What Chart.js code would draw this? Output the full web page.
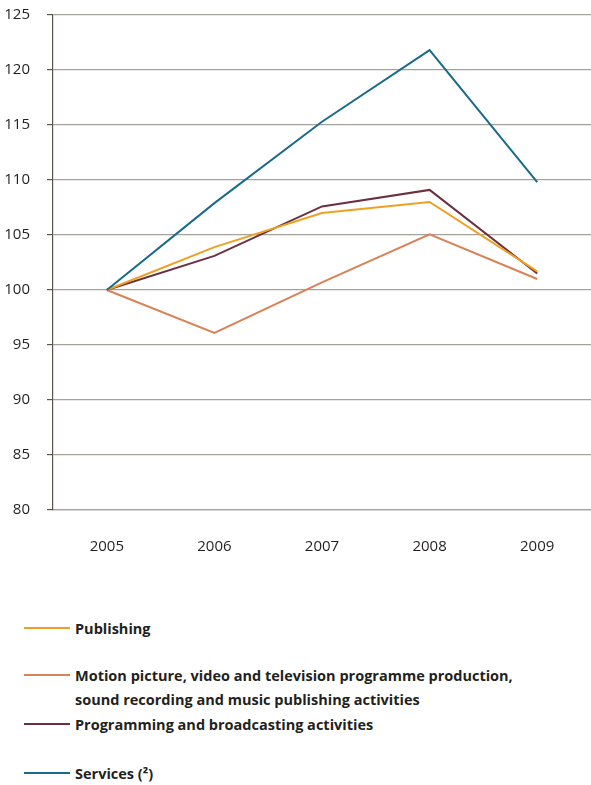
<!DOCTYPE html>
<html>
<head>
<meta charset="utf-8">
<script src="https://cdn.jsdelivr.net/npm/chart.js@4/dist/chart.umd.min.js"></script>
<style>
  html,body{margin:0;padding:0;background:#fff;}
  #wrap{position:relative;width:591px;height:576px;margin-top:-11px;}
  .legend{position:relative;width:591px;height:220px;font-family:"Open Sans",sans-serif;font-weight:bold;font-size:14.5px;color:#231f20;}
  .item{position:absolute;left:24px;}
  .item i{position:absolute;left:0;top:10px;width:46px;height:2px;}
  .item span{position:absolute;left:51px;top:0;white-space:nowrap;line-height:24px;}
</style>
</head>
<body>
<div id="wrap"><canvas id="c"></canvas></div>
<div class="legend">
  <div class="item" style="top:52px"><i style="background:#f0a020"></i><span>Publishing</span></div>
  <div class="item" style="top:99px"><i style="background:#d98257"></i><span>Motion picture, video and television programme production,<br>sound recording and music publishing activities</span></div>
  <div class="item" style="top:148px"><i style="background:#6b3040"></i><span>Programming and broadcasting activities</span></div>
  <div class="item" style="top:197px"><i style="background:#1a6b8a"></i><span>Services (²)</span></div>
</div>
<script>
'use strict';
const years=['2005','2006','2007','2008','2009'];
const publishing=[100,103.9,107.0,108.0,101.7];
const motionPicture=[100,96.1,100.7,105.05,101.0];
const programming=[100,103.1,107.6,109.1,101.5];
const services=[100,107.9,115.3,121.8,109.8];
const yTicks=[80,85,90,95,100,105,110,115,120,125];

const CC={pub:'#f0a020',mot:'#d98257',prog:'#6b3040',serv:'#1a6b8a',grid:'#a3a39a',axis:'#5a564e',text:'#231f20'};
const ds=(label,data,color)=>({label,data,borderColor:color,backgroundColor:color,borderWidth:2,pointRadius:0,tension:0,fill:false});

new Chart(document.getElementById('c'),{
  type:'line',
  data:{labels:years,datasets:[
    ds('Services (²)',services,CC.serv),
    ds('Motion picture',motionPicture,CC.mot),
    ds('Publishing',publishing,CC.pub),
    ds('Programming and broadcasting activities',programming,CC.prog)
  ]},
  options:{
    responsive:true,maintainAspectRatio:false,animation:false,
    layout:{padding:{top:0,left:2,right:0,bottom:0}},
    plugins:{legend:{display:false},tooltip:{enabled:false}},
    scales:{
      x:{offset:true,grid:{display:false},border:{display:true,color:CC.grid,width:1.2},
        afterFit:s=>{s.height=55;},
        ticks:{color:CC.text,padding:20,font:{family:'"Open Sans",sans-serif',size:15}}},
      y:{min:80,max:125,afterBuildTicks:a=>{a.ticks=yTicks.map(v=>({value:v}));},
        afterFit:s=>{s.width=51;},
        grid:{color:CC.grid,lineWidth:1.2,tickLength:6,tickColor:CC.axis},
        border:{display:true,color:CC.axis,width:1.2},
        ticks:{color:CC.text,padding:17,font:{family:'"Open Sans",sans-serif',size:15}}}
    }
  }
});
</script>
</body>
</html>
